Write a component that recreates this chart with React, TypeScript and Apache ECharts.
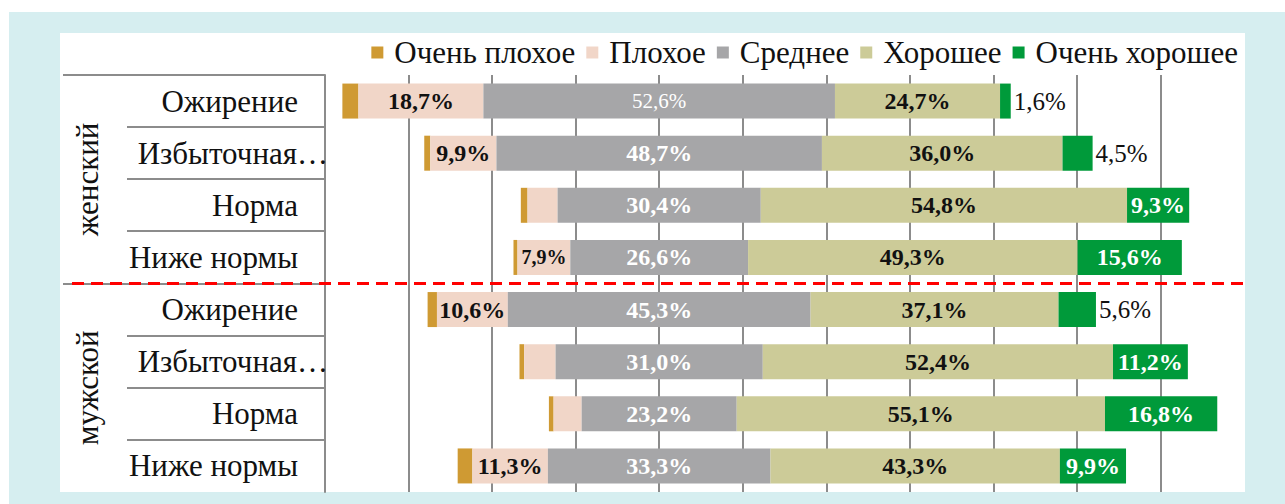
import React, { useEffect, useRef } from "react";
import * as echarts from "echarts";

const groups = ["женский", "мужской"];
const subcats = ["Ожирение", "Избыточная…", "Норма", "Ниже нормы"];
const seriesNames = ["Очень плохое", "Плохое", "Среднее", "Хорошее", "Очень хорошее"];
const veryBad = [2.4, 0.9, 1.0, 0.6, 1.4, 0.7, 0.7, 2.2];
const bad = [18.7, 9.9, 4.5, 7.9, 10.6, 4.7, 4.2, 11.3];
const average = [52.6, 48.7, 30.4, 26.6, 45.3, 31.0, 23.2, 33.3];
const good = [24.7, 36.0, 54.8, 49.3, 37.1, 52.4, 55.1, 43.3];
const veryGood = [1.6, 4.5, 9.3, 15.6, 5.6, 11.2, 16.8, 9.9];

// label visibility / style configuration (not data)
const badLabelShow = [true, true, false, true, true, false, false, true];
const vgOutside = [true, true, false, false, true, false, false, false];

const FONT = "Liberation Serif";
const fmt = (v: number) => v.toFixed(1).replace(".", ",") + "%";

export default function App() {
  const ref = useRef<HTMLDivElement>(null);
  useEffect(() => {
    if (!ref.current) return;
    const chart = echarts.init(ref.current, null, { renderer: "svg" });
    const n = veryBad.length;
    const cats = Array.from({ length: n }, (_, i) => String(i));
    const offset = veryBad.map((v, i) => +(50 - (v + bad[i] + average[i] / 2)).toFixed(3));
    const colors = ["#cf9a33", "#f1d6c8", "#a6a6a8", "#cccb98", "#009a3a"];

    const gridTop = 75;
    const gridBottom = 492;
    const rowH = (gridBottom - gridTop) / n;
    const axisX = 325;

    const graphics: any[] = [];
    graphics.push({
      type: "line", z: 50,
      shape: { x1: 63, y1: gridTop, x2: axisX, y2: gridTop },
      style: { stroke: "#8c8c8c", lineWidth: 2 },
    });
    for (let i = 1; i < n; i++) {
      const y = Math.round(gridTop + rowH * i);
      const isGroup = i % subcats.length === 0;
      graphics.push({
        type: "line", z: 50,
        shape: { x1: isGroup ? 63 : 127, y1: y, x2: axisX, y2: y },
        style: { stroke: "#8c8c8c", lineWidth: 2 },
      });
    }
    groups.forEach((g, gi) => {
      const cy = gridTop + rowH * (gi * 4 + 2);
      graphics.push({
        type: "text", z: 50,
        x: 87, y: cy, rotation: Math.PI / 2,
        style: {
          text: g, fill: "#111", font: `31px "${FONT}"`,
          align: "center", verticalAlign: "middle",
        },
      });
    });
    graphics.push({
      type: "line", z: 100,
      shape: { x1: 72, y1: gridTop + rowH * 4, x2: 1245, y2: gridTop + rowH * 4 },
      style: { stroke: "#ff0000", lineWidth: 3, lineDash: [12, 7] },
    });

    const labelBase = { fontFamily: FONT, fontSize: 24, fontWeight: "bold" as const };

    const series: any[] = [
      {
        name: "offset", type: "bar", stack: "t", silent: true, barWidth: 35,
        itemStyle: { color: "transparent" }, data: offset, label: { show: false },
      },
      {
        name: seriesNames[0], type: "bar", stack: "t", barWidth: 35,
        itemStyle: { color: colors[0] }, data: veryBad, label: { show: false },
      },
      {
        name: seriesNames[1], type: "bar", stack: "t", barWidth: 35,
        itemStyle: { color: colors[1] },
        data: bad.map((v, i) => ({
          value: v,
          label: {
            show: badLabelShow[i],
            ...labelBase,
            fontSize: i === 3 ? 20 : 24,
            color: "#111",
            formatter: () => fmt(v),
          },
        })),
      },
      {
        name: seriesNames[2], type: "bar", stack: "t", barWidth: 35,
        itemStyle: { color: colors[2] },
        data: average.map((v, i) => ({
          value: v,
          label: {
            show: true,
            ...labelBase,
            fontSize: i === 0 ? 21 : 24,
            fontWeight: i === 0 ? "normal" : "bold",
            color: "#fff",
            formatter: () => fmt(v),
          },
        })),
      },
      {
        name: seriesNames[3], type: "bar", stack: "t", barWidth: 35,
        itemStyle: { color: colors[3] },
        data: good.map((v) => ({
          value: v,
          label: { show: true, ...labelBase, color: "#111", formatter: () => fmt(v) },
        })),
      },
      {
        name: seriesNames[4], type: "bar", stack: "t", barWidth: 35,
        itemStyle: { color: colors[4] },
        data: veryGood.map((v, i) => ({
          value: v,
          label: vgOutside[i]
            ? {
                show: true, position: "right", distance: 3,
                fontFamily: FONT, fontSize: 25, fontWeight: "normal",
                color: "#111", formatter: () => fmt(v),
              }
            : { show: true, ...labelBase, color: "#fff", formatter: () => fmt(v) },
        })),
      },
    ];

    chart.setOption({
      animation: false,
      backgroundColor: "transparent",
      legend: {
        data: seriesNames,
        top: 32, right: 42,
        icon: "rect", itemWidth: 12, itemHeight: 12, itemGap: 11,
        textStyle: { fontFamily: FONT, fontSize: 31, color: "#111", padding: [0, 0, 0, 6] },
        selectedMode: false,
      },
      grid: { left: axisX, right: 1285 - 1244, top: gridTop, bottom: 504 - gridBottom, containLabel: false },
      xAxis: {
        type: "value", min: 0, max: 137.5, interval: 12.5,
        axisLabel: { show: false }, axisLine: { show: false }, axisTick: { show: false },
        splitLine: { show: true, showMinLine: false, showMaxLine: false, lineStyle: { color: "#8c8c8c", width: 2 } },
      },
      yAxis: {
        type: "category", inverse: true, data: cats,
        axisTick: { show: false },
        axisLine: { show: true, lineStyle: { color: "#8c8c8c", width: 2 } },
        axisLabel: {
          margin: 27, fontFamily: FONT, fontSize: 31, color: "#111",
          formatter: (_v: string, i: number) => {
            const t = subcats[i % subcats.length];
            return t.endsWith("…") ? `{e|${t}}` : t;
          },
          rich: {
            e: { fontFamily: FONT, fontSize: 31, color: "#111", padding: [0, -30, 0, 0] },
          },
        },
      },
      graphic: graphics,
      series,
    });
    return () => chart.dispose();
  }, []);

  return (
    <div style={{ position: "absolute", left: 0, top: 0, width: 1285, height: 504, background: "#fff" }}>
      <div style={{ position: "absolute", left: 9, top: 12, width: 1276, height: 492, background: "#d6eef0" }} />
      <div style={{ position: "absolute", left: 60, top: 33, width: 1185, height: 459, background: "#fff" }} />
      <div ref={ref} style={{ position: "absolute", left: 0, top: 0, width: 1285, height: 504 }} />
    </div>
  );
}
